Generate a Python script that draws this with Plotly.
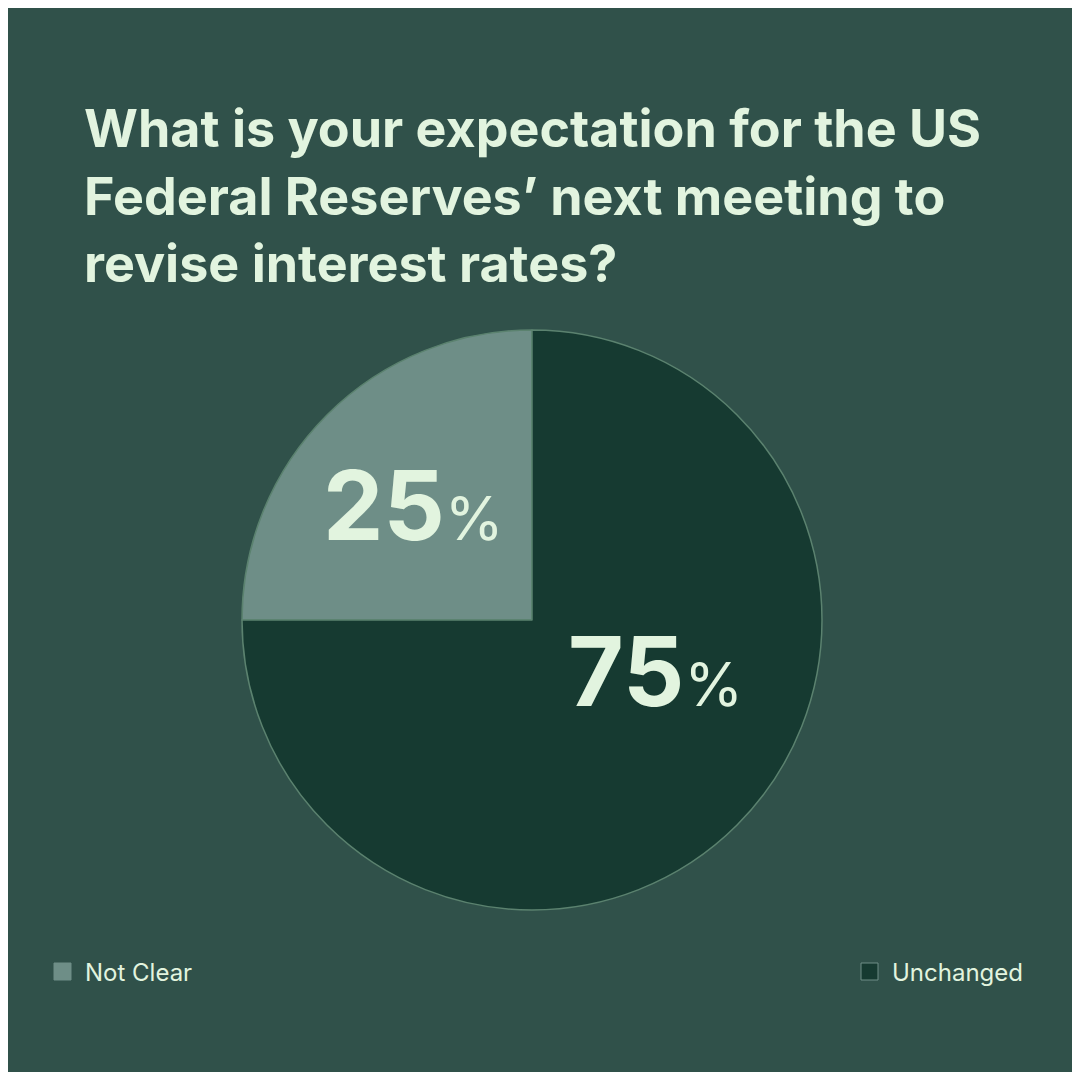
import plotly.graph_objects as go

# Survey result
labels = ['Not Clear', 'Unchanged']
values = [25, 75]
colors = ['#6e8e87', '#163a31']

title_text = ("What is your expectation for the US<br>"
              "Federal Reserves’ next meeting to<br>"
              "revise interest rates?")

bg = '#30514a'
txt = '#e2f4df'

# the page keeps an 8px body margin, so the figure is 1064 px and
# positions below are measured on the 1080 px reference
W = 1064
OFF = 8


def px(x):
    return (x - OFF) / W


def py(y):
    return 1 - (y - OFF) / W


fig = go.Figure(go.Pie(
    labels=labels,
    values=values,
    marker=dict(colors=colors, line=dict(color='#5b826f', width=1.5)),
    sort=False,
    direction='clockwise',
    rotation=-90,
    textinfo='none',
    hoverinfo='label+percent',
    showlegend=False,
    domain=dict(x=[px(242), px(822)], y=[py(910), py(330)]),
))

# percentage labels inside the slices
pct_pos = {'Not Clear': (413, 505), 'Unchanged': (655, 671)}
for lab, val in zip(labels, values):
    x, y = pct_pos[lab]
    fig.add_annotation(
        x=px(x), y=py(y), xref='paper', yref='paper', showarrow=False,
        text=f"<b>{val}</b><span style='font-size:60px'>%</span>",
        font=dict(family='Inter', size=96, color=txt),
        xanchor='center', yanchor='middle',
    )

# legend drawn at the bottom corners
leg_x = {'Not Clear': 54, 'Unchanged': 861}
for lab, col in zip(labels, colors):
    x0 = leg_x[lab]
    fig.add_shape(
        type='rect', xref='paper', yref='paper',
        x0=px(x0), x1=px(x0 + 17),
        y0=py(980), y1=py(963),
        fillcolor=col, line=dict(color='#6e8e87', width=1),
    )
    fig.add_annotation(
        x=px(x0 + 29), y=py(972), xref='paper', yref='paper',
        showarrow=False, text=lab, xanchor='left', yanchor='middle',
        font=dict(family='Inter', size=24, color=txt),
    )

fig.update_layout(
    width=W, height=W,
    paper_bgcolor=bg, plot_bgcolor=bg,
    margin=dict(l=0, r=0, t=0, b=0),
    title=dict(
        text=title_text, x=px(84), xanchor='left',
        y=py(147), yanchor='top',
        font=dict(family='Inter', size=52, color=txt, weight=700),
    ),
)

fig.write_html("out.html")
